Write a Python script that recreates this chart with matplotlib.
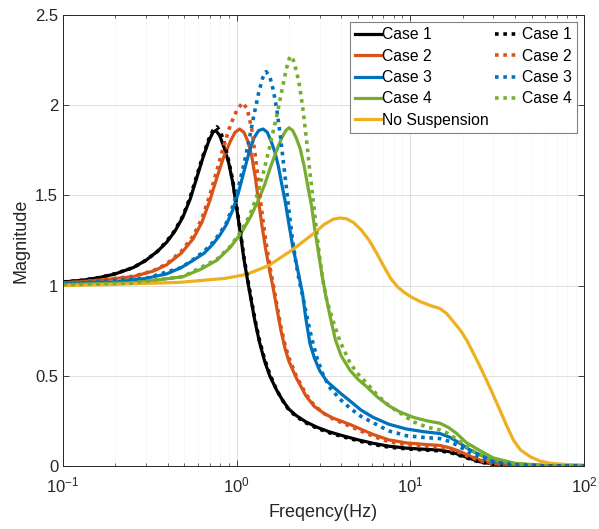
import matplotlib
matplotlib.use("Agg")
import matplotlib.pyplot as plt
from matplotlib.ticker import LogLocator, NullFormatter

plt.rcParams['font.family'] = ['Liberation Sans', 'DejaVu Sans']
plt.rcParams['mathtext.fontset'] = 'custom'
plt.rcParams['mathtext.rm'] = 'Liberation Sans'

# ---------------- data ----------------
labels_solid = ["Case 1", "Case 2", "Case 3", "Case 4"]
labels_dot = ["Case 1", "Case 2", "Case 3", "Case 4"]
label_nosusp = "No Suspension"

f_case1 = [0.1, 0.13, 0.163, 0.2, 0.254, 0.3, 0.35, 0.395, 0.44, 0.49, 0.54, 0.59, 0.64, 0.69,
           0.73, 0.76, 0.80, 0.85, 0.90, 0.95, 1.0, 1.05, 1.1, 1.15, 1.2, 1.27, 1.35, 1.45, 1.55,
           1.7, 1.85, 2.0, 2.2, 2.5, 2.9, 3.4, 4.0, 5.0, 6.1, 7.5, 9.5, 12.0, 14.8, 17.0, 19.0,
           22.0, 25.0, 30.0, 40.0, 60.0, 100.0]
m_case1 = [1.02, 1.03, 1.045, 1.065, 1.10, 1.14, 1.19, 1.24, 1.30, 1.38, 1.48, 1.60, 1.71, 1.80,
           1.85, 1.86, 1.83, 1.76, 1.68, 1.57, 1.43, 1.29, 1.15, 1.04, 0.94, 0.81, 0.69, 0.58, 0.50,
           0.42, 0.36, 0.315, 0.28, 0.245, 0.215, 0.19, 0.17, 0.145, 0.126, 0.11, 0.099, 0.093, 0.088,
           0.078, 0.064, 0.042, 0.024, 0.011, 0.004, 0.001, 0.0]

f_case1_dot = [0.1, 0.13, 0.163, 0.2, 0.254, 0.3, 0.35, 0.395, 0.44, 0.49, 0.54, 0.59, 0.64, 0.69,
               0.73, 0.77, 0.81, 0.86, 0.90, 0.95, 1.0, 1.05, 1.1, 1.15, 1.2, 1.27, 1.35, 1.45, 1.55,
               1.7, 1.85, 2.0, 2.2, 2.5, 2.9, 3.4, 4.0, 5.0, 6.1, 7.5, 9.5, 12.0, 14.8, 17.0, 19.0,
               22.0, 25.0, 30.0, 40.0, 60.0, 100.0]
m_case1_dot = [1.02, 1.03, 1.045, 1.066, 1.10, 1.14, 1.19, 1.245, 1.305, 1.385, 1.49, 1.61, 1.72, 1.81,
               1.86, 1.88, 1.85, 1.77, 1.69, 1.58, 1.44, 1.30, 1.16, 1.05, 0.95, 0.82, 0.70, 0.59, 0.51,
               0.42, 0.36, 0.31, 0.275, 0.24, 0.21, 0.185, 0.165, 0.14, 0.12, 0.105, 0.095, 0.089, 0.084,
               0.074, 0.06, 0.039, 0.022, 0.01, 0.003, 0.001, 0.0]

f_case2 = [0.1, 0.163, 0.254, 0.33, 0.395, 0.48, 0.562, 0.63, 0.70, 0.77, 0.84, 0.92, 0.98, 1.04,
           1.10, 1.16, 1.22, 1.28, 1.34, 1.40, 1.47, 1.55, 1.62, 1.70, 1.80, 1.9, 2.0, 2.2, 2.5,
           2.8, 3.2, 3.6, 4.5, 6.1, 7.5, 9.5, 12.0, 14.8, 17.0, 19.0, 22.0, 25.0, 30.0, 40.0, 60.0,
           100.0]
m_case2 = [1.015, 1.03, 1.05, 1.08, 1.115, 1.18, 1.26, 1.35, 1.47, 1.60, 1.71, 1.80, 1.85, 1.868,
           1.85, 1.80, 1.72, 1.60, 1.46, 1.33, 1.20, 1.08, 0.99, 0.88, 0.75, 0.65, 0.58, 0.49, 0.39,
           0.33, 0.29, 0.265, 0.23, 0.175, 0.145, 0.128, 0.12, 0.114, 0.10, 0.083, 0.055, 0.034, 0.015,
           0.005, 0.001, 0.0]

f_case2_dot = [0.1, 0.163, 0.254, 0.33, 0.395, 0.48, 0.562, 0.63, 0.70, 0.77, 0.84, 0.92, 1.0, 1.08,
               1.15, 1.22, 1.28, 1.34, 1.40, 1.47, 1.55, 1.62, 1.70, 1.80, 1.9, 2.0, 2.2, 2.5, 2.8,
               3.2, 3.6, 4.5, 6.1, 7.5, 9.5, 12.0, 14.8, 17.0, 19.0, 22.0, 25.0, 30.0, 40.0, 60.0, 100.0]
m_case2_dot = [1.015, 1.03, 1.052, 1.082, 1.12, 1.19, 1.275, 1.37, 1.50, 1.64, 1.77, 1.89, 1.97, 2.014,
               1.98, 1.87, 1.72, 1.56, 1.40, 1.25, 1.11, 1.01, 0.90, 0.77, 0.67, 0.60, 0.50, 0.40, 0.335,
               0.29, 0.26, 0.22, 0.165, 0.135, 0.118, 0.11, 0.105, 0.092, 0.076, 0.05, 0.03, 0.013, 0.004,
               0.001, 0.0]

f_case3 = [0.1, 0.2, 0.3, 0.395, 0.48, 0.562, 0.65, 0.73, 0.80, 0.875, 0.95, 1.02, 1.1, 1.18, 1.26,
           1.34, 1.42, 1.5, 1.58, 1.66, 1.74, 1.82, 1.9, 2.0, 2.1, 2.2, 2.3, 2.4, 2.5, 2.64, 2.8,
           3.0, 3.3, 3.94, 4.5, 5.2, 6.1, 7.5, 9.5, 12.0, 14.8, 17.0, 19.0, 22.0, 25.2, 30.0, 40.0,
           60.0, 100.0]
m_case3 = [1.01, 1.02, 1.04, 1.065, 1.10, 1.14, 1.18, 1.23, 1.28, 1.34, 1.42, 1.51, 1.63, 1.74, 1.82,
           1.86, 1.868, 1.85, 1.80, 1.74, 1.66, 1.56, 1.47, 1.34, 1.22, 1.13, 1.04, 0.95, 0.82, 0.68, 0.60,
           0.53, 0.47, 0.405, 0.36, 0.31, 0.27, 0.232, 0.205, 0.19, 0.18, 0.158, 0.13, 0.09, 0.062, 0.03,
           0.01, 0.002, 0.0]

f_case3_dot = [0.1, 0.3, 0.48, 0.562, 0.65, 0.73, 0.80, 0.875, 0.95, 1.02, 1.1, 1.18, 1.26, 1.34,
               1.41, 1.48, 1.55, 1.62, 1.70, 1.78, 1.86, 1.94, 2.02, 2.1, 2.2, 2.3, 2.4, 2.55, 2.7,
               2.9, 3.1, 3.4, 3.94, 4.5, 5.2, 6.1, 7.5, 9.5, 12.0, 14.8, 17.0, 19.0, 22.0, 25.0, 30.0,
               40.0, 60.0, 100.0]
m_case3_dot = [1.01, 1.04, 1.10, 1.145, 1.19, 1.24, 1.29, 1.35, 1.44, 1.54, 1.67, 1.81, 1.95, 2.07,
               2.15, 2.186, 2.16, 2.09, 1.98, 1.84, 1.68, 1.53, 1.38, 1.25, 1.12, 1.02, 0.94, 0.82, 0.71,
               0.60, 0.52, 0.44, 0.37, 0.32, 0.275, 0.24, 0.195, 0.168, 0.158, 0.152, 0.135, 0.11, 0.075,
               0.048, 0.022, 0.007, 0.001, 0.0]

f_case4 = [0.1, 0.254, 0.49, 0.62, 0.768, 0.915, 1.06, 1.2, 1.33, 1.45, 1.57, 1.7, 1.82, 1.92, 2.0,
           2.1, 2.2, 2.32, 2.45, 2.58, 2.70, 2.82, 2.95, 3.1, 3.25, 3.45, 3.7, 4.0, 4.5, 5.0, 5.6,
           6.5, 7.63, 8.7, 10.4, 12.5, 14.8, 16.5, 18.5, 21.0, 25.2, 30.0, 40.0, 60.0, 100.0]
m_case4 = [1.005, 1.015, 1.049, 1.09, 1.14, 1.21, 1.29, 1.38, 1.47, 1.56, 1.66, 1.75, 1.82, 1.86, 1.875,
           1.86, 1.82, 1.76, 1.66, 1.54, 1.44, 1.31, 1.19, 1.06, 0.95, 0.83, 0.70, 0.61, 0.53, 0.48, 0.44,
           0.38, 0.33, 0.30, 0.27, 0.25, 0.237, 0.215, 0.18, 0.13, 0.085, 0.045, 0.015, 0.003, 0.0]

f_case4_dot = [0.1, 0.254, 0.49, 0.768, 0.915, 1.06, 1.19, 1.3, 1.42, 1.55, 1.70, 1.82, 1.93, 2.03,
               2.12, 2.22, 2.31, 2.42, 2.53, 2.64, 2.76, 2.88, 3.0, 3.15, 3.3, 3.6, 3.94, 4.5, 5.0,
               5.6, 6.5, 7.63, 8.7, 10.4, 12.5, 14.8, 16.5, 18.5, 21.0, 24.0, 30.0, 40.0, 60.0, 100.0]
m_case4_dot = [1.005, 1.015, 1.05, 1.145, 1.215, 1.30, 1.39, 1.49, 1.62, 1.77, 1.94, 2.08, 2.20, 2.273,
               2.25, 2.18, 2.10, 1.96, 1.80, 1.63, 1.47, 1.31, 1.16, 1.02, 0.92, 0.80, 0.69, 0.57, 0.51,
               0.46, 0.39, 0.33, 0.295, 0.245, 0.215, 0.20, 0.18, 0.148, 0.11, 0.07, 0.035, 0.011, 0.002, 0.0]

f_nosusp = [0.1, 0.2, 0.47, 0.856, 1.14, 1.52, 2.07, 2.5, 2.83, 3.2, 3.6, 3.94, 4.3, 4.7, 5.2,
            5.8, 6.4, 7.0, 7.7, 8.5, 9.3, 10.2, 11.5, 13.0, 14.8, 16.2, 17.7, 19.5, 21.1, 23.5, 26.3,
            29.5, 32.8, 36.0, 39.2, 43.0, 48.9, 56.0, 63.7, 80.0, 100.0]
m_nosusp = [1.0, 1.007, 1.018, 1.04, 1.062, 1.11, 1.195, 1.255, 1.295, 1.34, 1.368, 1.375, 1.37, 1.35,
            1.31, 1.25, 1.18, 1.11, 1.04, 0.99, 0.96, 0.935, 0.91, 0.89, 0.873, 0.845, 0.80, 0.75, 0.698,
            0.61, 0.514, 0.41, 0.31, 0.22, 0.144, 0.09, 0.052, 0.027, 0.015, 0.008, 0.005]

colors = ["#000000", "#D95319", "#0072BD", "#77AC30"]
color_nosusp = "#EDB120"

# ---------------- figure ----------------
fig = plt.figure(figsize=(5.99, 5.29), dpi=100)
ax = fig.add_axes([63/599, 1 - 466/529, (584-63)/599, (466-15)/529])

solid_f = [f_case1, f_case2, f_case3, f_case4]
solid_m = [m_case1, m_case2, m_case3, m_case4]
dot_f = [f_case1_dot, f_case2_dot, f_case3_dot, f_case4_dot]
dot_m = [m_case1_dot, m_case2_dot, m_case3_dot, m_case4_dot]

handles_solid = []
for fx, my, c, lab in zip(solid_f, solid_m, colors, labels_solid):
    h, = ax.plot(fx, my, color=c, lw=2.3, label=lab, solid_joinstyle='round')
    handles_solid.append(h)
h_ns, = ax.plot(f_nosusp, m_nosusp, color=color_nosusp, lw=2.3, label=label_nosusp,
                solid_joinstyle='round')
handles_dot = []
for fx, my, c, lab in zip(dot_f, dot_m, colors, labels_dot):
    h, = ax.plot(fx, my, color=c, lw=2.6, ls=(0, (1, 1.3)), label=lab)
    handles_dot.append(h)

ax.set_xscale('log')
ax.set_xlim(0.1, 100)
ax.set_ylim(0, 2.5)
ax.set_yticks([0, 0.5, 1, 1.5, 2, 2.5])
ax.set_yticklabels(["0", "0.5", "1", "1.5", "2", "2.5"])
ax.xaxis.set_minor_locator(LogLocator(base=10, subs=range(2, 10)))
ax.xaxis.set_minor_formatter(NullFormatter())

ax.grid(True, which='major', color='#d9d9d9', lw=0.6)
ax.grid(True, which='minor', axis='x', color='#ececec', lw=0.5, ls=(0, (1, 1)))
ax.set_axisbelow(True)

ax.tick_params(which='both', direction='in', top=True, right=True, colors='#262626',
               labelsize=12, labelcolor='#262626')
ax.tick_params(which='major', length=4, width=0.6)
ax.tick_params(which='minor', length=2, width=0.5)
ax.tick_params(axis='x', pad=7)
for s in ax.spines.values():
    s.set_color('#262626')
    s.set_linewidth(0.7)

ax.set_xlabel("Freqency(Hz)", fontsize=13, color='#262626', labelpad=6)
ax.set_ylabel("Magnitude", fontsize=13, color='#262626', labelpad=4)

all_handles = handles_solid + [h_ns] + handles_dot
leg = ax.legend(all_handles, [h.get_label() for h in all_handles],
                ncol=2, loc='upper right',
                bbox_to_anchor=(577/599, 1 - 22/529), bbox_transform=fig.transFigure,
                fontsize=11.3, handlelength=1.6, handletextpad=0.12, labelspacing=0.4,
                columnspacing=0.35, borderpad=0.35, borderaxespad=0.0, fancybox=False,
                framealpha=1, edgecolor='#808080')
leg.get_frame().set_linewidth(0.8)

fig.savefig("out.png", dpi=100)
